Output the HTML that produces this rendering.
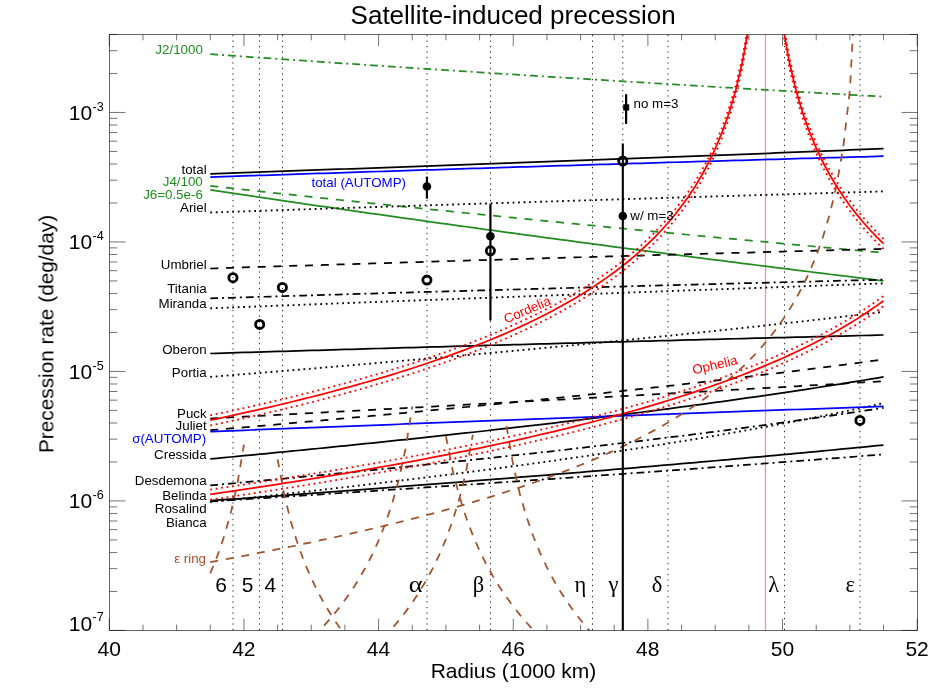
<!DOCTYPE html><html><head><meta charset="utf-8"><title>Satellite-induced precession</title>
<style>html,body{margin:0;padding:0;background:#fff;}svg{display:block;font-family:"Liberation Sans",sans-serif;}</style></head><body>
<svg width="950" height="700" viewBox="0 0 950 700">
<rect x="0" y="0" width="950" height="700" fill="#ffffff"/>
<defs><clipPath id="cp"><rect x="109.5" y="34.5" width="808.0" height="595.9"/></clipPath></defs>
<g stroke="#262626" stroke-width="1" stroke-dasharray="1.3 4.2" stroke-dashoffset="-0.2" fill="none">
<line x1="233.0" y1="630.4" x2="233.0" y2="34.5"/>
<line x1="259.5" y1="630.4" x2="259.5" y2="34.5"/>
<line x1="282.5" y1="630.4" x2="282.5" y2="34.5"/>
<line x1="427.0" y1="630.4" x2="427.0" y2="34.5"/>
<line x1="490.5" y1="630.4" x2="490.5" y2="34.5"/>
<line x1="592.5" y1="630.4" x2="592.5" y2="34.5"/>
<line x1="622.8" y1="630.4" x2="622.8" y2="34.5"/>
<line x1="668.0" y1="630.4" x2="668.0" y2="34.5"/>
<line x1="784.5" y1="630.4" x2="784.5" y2="34.5"/>
<line x1="860.0" y1="630.4" x2="860.0" y2="34.5"/>
</g>
<line x1="765.5" y1="34.5" x2="765.5" y2="630.4" stroke="#ff8a8a" stroke-width="1.2"/>
<g clip-path="url(#cp)">
<polyline points="210.27,54.20 217.00,54.67 223.74,55.15 230.47,55.62 237.20,56.09 243.94,56.56 250.67,57.03 257.40,57.49 264.13,57.96 270.87,58.42 277.60,58.89 284.33,59.35 291.07,59.81 297.80,60.27 304.53,60.73 311.26,61.19 318.00,61.65 324.73,62.10 331.46,62.56 338.20,63.01 344.93,63.46 351.66,63.92 358.39,64.37 365.13,64.82 371.86,65.27 378.59,65.71 385.32,66.16 392.06,66.61 398.79,67.05 405.52,67.50 412.26,67.94 418.99,68.38 425.72,68.82 432.45,69.26 439.19,69.70 445.92,70.14 452.65,70.57 459.39,71.01 466.12,71.44 472.85,71.88 479.58,72.31 486.32,72.74 493.05,73.18 499.78,73.61 506.52,74.03 513.25,74.46 519.98,74.89 526.71,75.32 533.45,75.74 540.18,76.17 546.91,76.59 553.64,77.01 560.38,77.44 567.11,77.86 573.84,78.28 580.58,78.70 587.31,79.11 594.04,79.53 600.77,79.95 607.51,80.36 614.24,80.78 620.97,81.19 627.71,81.61 634.44,82.02 641.17,82.43 647.90,82.84 654.64,83.25 661.37,83.66 668.10,84.07 674.84,84.47 681.57,84.88 688.30,85.29 695.03,85.69 701.77,86.09 708.50,86.50 715.23,86.90 721.96,87.30 728.70,87.70 735.43,88.10 742.16,88.50 748.90,88.90 755.63,89.29 762.36,89.69 769.09,90.09 775.83,90.48 782.56,90.88 789.29,91.27 796.03,91.66 802.76,92.05 809.49,92.44 816.22,92.83 822.96,93.22 829.69,93.61 836.42,94.00 843.16,94.39 849.89,94.77 856.62,95.16 863.35,95.54 870.09,95.93 876.82,96.31 883.55,96.69" fill="none" stroke="#228b22" stroke-width="1.75" stroke-dasharray="7.8 4 2 4" />
<polyline points="210.27,185.90 217.00,186.64 223.74,187.39 230.47,188.13 237.20,188.87 243.94,189.60 250.67,190.34 257.40,191.07 264.13,191.81 270.87,192.54 277.60,193.26 284.33,193.99 291.07,194.72 297.80,195.44 304.53,196.16 311.26,196.88 318.00,197.60 324.73,198.32 331.46,199.03 338.20,199.75 344.93,200.46 351.66,201.17 358.39,201.88 365.13,202.58 371.86,203.29 378.59,203.99 385.32,204.70 392.06,205.40 398.79,206.09 405.52,206.79 412.26,207.49 418.99,208.18 425.72,208.88 432.45,209.57 439.19,210.26 445.92,210.94 452.65,211.63 459.39,212.32 466.12,213.00 472.85,213.68 479.58,214.36 486.32,215.04 493.05,215.72 499.78,216.39 506.52,217.07 513.25,217.74 519.98,218.41 526.71,219.08 533.45,219.75 540.18,220.42 546.91,221.09 553.64,221.75 560.38,222.41 567.11,223.07 573.84,223.74 580.58,224.39 587.31,225.05 594.04,225.71 600.77,226.36 607.51,227.02 614.24,227.67 620.97,228.32 627.71,228.97 634.44,229.61 641.17,230.26 647.90,230.91 654.64,231.55 661.37,232.19 668.10,232.83 674.84,233.47 681.57,234.11 688.30,234.75 695.03,235.38 701.77,236.02 708.50,236.65 715.23,237.28 721.96,237.91 728.70,238.54 735.43,239.17 742.16,239.80 748.90,240.42 755.63,241.05 762.36,241.67 769.09,242.29 775.83,242.91 782.56,243.53 789.29,244.15 796.03,244.77 802.76,245.38 809.49,246.00 816.22,246.61 822.96,247.22 829.69,247.83 836.42,248.44 843.16,249.05 849.89,249.66 856.62,250.26 863.35,250.87 870.09,251.47 876.82,252.07 883.55,252.67" fill="none" stroke="#228b22" stroke-width="1.75" stroke-dasharray="8 7.8" />
<polyline points="210.27,189.80 217.00,190.82 223.74,191.83 230.47,192.84 237.20,193.85 243.94,194.85 250.67,195.85 257.40,196.85 264.13,197.85 270.87,198.85 277.60,199.84 284.33,200.83 291.07,201.82 297.80,202.81 304.53,203.79 311.26,204.78 318.00,205.76 324.73,206.73 331.46,207.71 338.20,208.68 344.93,209.65 351.66,210.62 358.39,211.59 365.13,212.55 371.86,213.51 378.59,214.47 385.32,215.43 392.06,216.39 398.79,217.34 405.52,218.29 412.26,219.24 418.99,220.18 425.72,221.13 432.45,222.07 439.19,223.01 445.92,223.95 452.65,224.89 459.39,225.82 466.12,226.75 472.85,227.68 479.58,228.61 486.32,229.54 493.05,230.46 499.78,231.38 506.52,232.30 513.25,233.22 519.98,234.14 526.71,235.05 533.45,235.96 540.18,236.87 546.91,237.78 553.64,238.69 560.38,239.59 567.11,240.49 573.84,241.39 580.58,242.29 587.31,243.19 594.04,244.08 600.77,244.98 607.51,245.87 614.24,246.76 620.97,247.64 627.71,248.53 634.44,249.41 641.17,250.29 647.90,251.17 654.64,252.05 661.37,252.93 668.10,253.80 674.84,254.67 681.57,255.54 688.30,256.41 695.03,257.28 701.77,258.14 708.50,259.01 715.23,259.87 721.96,260.73 728.70,261.59 735.43,262.44 742.16,263.30 748.90,264.15 755.63,265.00 762.36,265.85 769.09,266.70 775.83,267.54 782.56,268.39 789.29,269.23 796.03,270.07 802.76,270.91 809.49,271.75 816.22,272.59 822.96,273.42 829.69,274.25 836.42,275.08 843.16,275.91 849.89,276.74 856.62,277.57 863.35,278.39 870.09,279.22 876.82,280.04 883.55,280.86" fill="none" stroke="#228b22" stroke-width="1.75"  />
<polyline points="210.27,502.00 217.00,501.29 223.74,500.58 230.47,499.86 237.20,499.14 243.94,498.42 250.67,497.70 257.40,496.97 264.13,496.24 270.87,495.50 277.60,494.76 284.33,494.02 291.07,493.27 297.80,492.52 304.53,491.77 311.26,491.01 318.00,490.25 324.73,489.48 331.46,488.71 338.20,487.94 344.93,487.16 351.66,486.38 358.39,485.59 365.13,484.80 371.86,484.01 378.59,483.21 385.32,482.40 392.06,481.59 398.79,480.78 405.52,479.96 412.26,479.14 418.99,478.31 425.72,477.48 432.45,476.65 439.19,475.80 445.92,474.96 452.65,474.10 459.39,473.25 466.12,472.38 472.85,471.51 479.58,470.64 486.32,469.76 493.05,468.88 499.78,467.98 506.52,467.09 513.25,466.18 519.98,465.27 526.71,464.36 533.45,463.44 540.18,462.51 546.91,461.57 553.64,460.63 560.38,459.69 567.11,458.73 573.84,457.77 580.58,456.80 587.31,455.82 594.04,454.84 600.77,453.85 607.51,452.85 614.24,451.84 620.97,450.83 627.71,449.81 634.44,448.78 641.17,447.74 647.90,446.69 654.64,445.64 661.37,444.57 668.10,443.50 674.84,442.41 681.57,441.32 688.30,440.22 695.03,439.11 701.77,437.99 708.50,436.86 715.23,435.72 721.96,434.56 728.70,433.40 735.43,432.23 742.16,431.04 748.90,429.84 755.63,428.64 762.36,427.42 769.09,426.18 775.83,424.94 782.56,423.68 789.29,422.41 796.03,421.13 802.76,419.83 809.49,418.52 816.22,417.19 822.96,415.85 829.69,414.50 836.42,413.13 843.16,411.74 849.89,410.34 856.62,408.92 863.35,407.48 870.09,406.03 876.82,404.56 883.55,403.07" fill="none" stroke="#000" stroke-width="1.85" stroke-dasharray="1.8 3.7" />
<polyline points="210.27,458.90 217.00,458.27 223.74,457.63 230.47,457.00 237.20,456.36 243.94,455.72 250.67,455.08 257.40,454.43 264.13,453.78 270.87,453.13 277.60,452.48 284.33,451.82 291.07,451.16 297.80,450.50 304.53,449.84 311.26,449.17 318.00,448.50 324.73,447.83 331.46,447.15 338.20,446.48 344.93,445.80 351.66,445.11 358.39,444.42 365.13,443.73 371.86,443.04 378.59,442.35 385.32,441.65 392.06,440.94 398.79,440.24 405.52,439.53 412.26,438.82 418.99,438.10 425.72,437.38 432.45,436.66 439.19,435.93 445.92,435.20 452.65,434.47 459.39,433.73 466.12,432.99 472.85,432.25 479.58,431.50 486.32,430.75 493.05,429.99 499.78,429.23 506.52,428.47 513.25,427.70 519.98,426.93 526.71,426.15 533.45,425.37 540.18,424.59 546.91,423.80 553.64,423.01 560.38,422.21 567.11,421.41 573.84,420.60 580.58,419.79 587.31,418.97 594.04,418.15 600.77,417.32 607.51,416.49 614.24,415.65 620.97,414.81 627.71,413.96 634.44,413.11 641.17,412.25 647.90,411.39 654.64,410.52 661.37,409.65 668.10,408.77 674.84,407.88 681.57,406.99 688.30,406.09 695.03,405.19 701.77,404.28 708.50,403.36 715.23,402.44 721.96,401.51 728.70,400.57 735.43,399.63 742.16,398.68 748.90,397.72 755.63,396.76 762.36,395.79 769.09,394.81 775.83,393.82 782.56,392.83 789.29,391.83 796.03,390.82 802.76,389.80 809.49,388.77 816.22,387.74 822.96,386.70 829.69,385.65 836.42,384.59 843.16,383.52 849.89,382.44 856.62,381.35 863.35,380.26 870.09,379.15 876.82,378.03 883.55,376.91" fill="none" stroke="#000" stroke-width="1.75"  />
<polyline points="210.27,485.40 217.00,484.79 223.74,484.18 230.47,483.57 237.20,482.95 243.94,482.33 250.67,481.71 257.40,481.09 264.13,480.47 270.87,479.84 277.60,479.21 284.33,478.58 291.07,477.94 297.80,477.31 304.53,476.67 311.26,476.03 318.00,475.38 324.73,474.74 331.46,474.09 338.20,473.44 344.93,472.78 351.66,472.13 358.39,471.47 365.13,470.81 371.86,470.14 378.59,469.48 385.32,468.81 392.06,468.13 398.79,467.46 405.52,466.78 412.26,466.10 418.99,465.41 425.72,464.72 432.45,464.03 439.19,463.34 445.92,462.64 452.65,461.94 459.39,461.24 466.12,460.53 472.85,459.82 479.58,459.11 486.32,458.39 493.05,457.67 499.78,456.94 506.52,456.22 513.25,455.48 519.98,454.75 526.71,454.01 533.45,453.27 540.18,452.52 546.91,451.77 553.64,451.02 560.38,450.26 567.11,449.50 573.84,448.73 580.58,447.96 587.31,447.19 594.04,446.41 600.77,445.62 607.51,444.84 614.24,444.05 620.97,443.25 627.71,442.45 634.44,441.64 641.17,440.83 647.90,440.02 654.64,439.20 661.37,438.37 668.10,437.54 674.84,436.71 681.57,435.87 688.30,435.02 695.03,434.17 701.77,433.31 708.50,432.45 715.23,431.58 721.96,430.71 728.70,429.83 735.43,428.95 742.16,428.06 748.90,427.16 755.63,426.26 762.36,425.35 769.09,424.43 775.83,423.51 782.56,422.58 789.29,421.65 796.03,420.71 802.76,419.76 809.49,418.80 816.22,417.84 822.96,416.87 829.69,415.89 836.42,414.91 843.16,413.91 849.89,412.91 856.62,411.91 863.35,410.89 870.09,409.86 876.82,408.83 883.55,407.79" fill="none" stroke="#000" stroke-width="1.75" stroke-dasharray="7.8 4 2 4" />
<polyline points="210.27,430.20 217.00,429.63 223.74,429.05 230.47,428.48 237.20,427.90 243.94,427.32 250.67,426.73 257.40,426.15 264.13,425.56 270.87,424.98 277.60,424.39 284.33,423.80 291.07,423.20 297.80,422.61 304.53,422.01 311.26,421.41 318.00,420.81 324.73,420.21 331.46,419.60 338.20,418.99 344.93,418.38 351.66,417.77 358.39,417.16 365.13,416.54 371.86,415.92 378.59,415.30 385.32,414.68 392.06,414.05 398.79,413.42 405.52,412.79 412.26,412.16 418.99,411.52 425.72,410.88 432.45,410.24 439.19,409.60 445.92,408.96 452.65,408.31 459.39,407.66 466.12,407.00 472.85,406.35 479.58,405.69 486.32,405.03 493.05,404.36 499.78,403.69 506.52,403.02 513.25,402.35 519.98,401.67 526.71,401.00 533.45,400.31 540.18,399.63 546.91,398.94 553.64,398.25 560.38,397.55 567.11,396.85 573.84,396.15 580.58,395.45 587.31,394.74 594.04,394.03 600.77,393.31 607.51,392.60 614.24,391.87 620.97,391.15 627.71,390.42 634.44,389.69 641.17,388.95 647.90,388.21 654.64,387.46 661.37,386.72 668.10,385.96 674.84,385.21 681.57,384.45 688.30,383.68 695.03,382.91 701.77,382.14 708.50,381.36 715.23,380.58 721.96,379.80 728.70,379.00 735.43,378.21 742.16,377.41 748.90,376.61 755.63,375.80 762.36,374.98 769.09,374.16 775.83,373.34 782.56,372.51 789.29,371.68 796.03,370.84 802.76,369.99 809.49,369.14 816.22,368.29 822.96,367.43 829.69,366.56 836.42,365.69 843.16,364.81 849.89,363.92 856.62,363.03 863.35,362.14 870.09,361.24 876.82,360.33 883.55,359.41" fill="none" stroke="#000" stroke-width="1.75" stroke-dasharray="8 7.8" />
<polyline points="210.27,376.90 217.00,376.36 223.74,375.82 230.47,375.27 237.20,374.73 243.94,374.18 250.67,373.63 257.40,373.08 264.13,372.53 270.87,371.98 277.60,371.42 284.33,370.87 291.07,370.31 297.80,369.75 304.53,369.19 311.26,368.63 318.00,368.06 324.73,367.50 331.46,366.93 338.20,366.36 344.93,365.79 351.66,365.21 358.39,364.64 365.13,364.06 371.86,363.48 378.59,362.90 385.32,362.32 392.06,361.74 398.79,361.15 405.52,360.56 412.26,359.97 418.99,359.38 425.72,358.78 432.45,358.19 439.19,357.59 445.92,356.99 452.65,356.39 459.39,355.78 466.12,355.17 472.85,354.56 479.58,353.95 486.32,353.34 493.05,352.72 499.78,352.10 506.52,351.48 513.25,350.86 519.98,350.23 526.71,349.61 533.45,348.97 540.18,348.34 546.91,347.71 553.64,347.07 560.38,346.43 567.11,345.78 573.84,345.14 580.58,344.49 587.31,343.84 594.04,343.18 600.77,342.53 607.51,341.87 614.24,341.20 620.97,340.54 627.71,339.87 634.44,339.20 641.17,338.52 647.90,337.84 654.64,337.16 661.37,336.48 668.10,335.79 674.84,335.10 681.57,334.41 688.30,333.71 695.03,333.01 701.77,332.31 708.50,331.60 715.23,330.89 721.96,330.18 728.70,329.46 735.43,328.74 742.16,328.01 748.90,327.28 755.63,326.55 762.36,325.82 769.09,325.08 775.83,324.33 782.56,323.58 789.29,322.83 796.03,322.08 802.76,321.32 809.49,320.55 816.22,319.78 822.96,319.01 829.69,318.23 836.42,317.45 843.16,316.66 849.89,315.87 856.62,315.08 863.35,314.28 870.09,313.47 876.82,312.66 883.55,311.85" fill="none" stroke="#000" stroke-width="1.85" stroke-dasharray="1.8 3.7" />
<polyline points="210.27,500.70 217.00,500.22 223.74,499.73 230.47,499.24 237.20,498.76 243.94,498.27 250.67,497.78 257.40,497.29 264.13,496.80 270.87,496.30 277.60,495.81 284.33,495.32 291.07,494.82 297.80,494.32 304.53,493.83 311.26,493.33 318.00,492.83 324.73,492.33 331.46,491.82 338.20,491.32 344.93,490.81 351.66,490.31 358.39,489.80 365.13,489.29 371.86,488.78 378.59,488.27 385.32,487.76 392.06,487.25 398.79,486.73 405.52,486.22 412.26,485.70 418.99,485.18 425.72,484.66 432.45,484.14 439.19,483.61 445.92,483.09 452.65,482.56 459.39,482.04 466.12,481.51 472.85,480.98 479.58,480.45 486.32,479.91 493.05,479.38 499.78,478.84 506.52,478.30 513.25,477.76 519.98,477.22 526.71,476.68 533.45,476.14 540.18,475.59 546.91,475.04 553.64,474.49 560.38,473.94 567.11,473.39 573.84,472.84 580.58,472.28 587.31,471.72 594.04,471.16 600.77,470.60 607.51,470.04 614.24,469.47 620.97,468.90 627.71,468.33 634.44,467.76 641.17,467.19 647.90,466.62 654.64,466.04 661.37,465.46 668.10,464.88 674.84,464.30 681.57,463.71 688.30,463.12 695.03,462.53 701.77,461.94 708.50,461.35 715.23,460.75 721.96,460.15 728.70,459.55 735.43,458.95 742.16,458.34 748.90,457.74 755.63,457.13 762.36,456.51 769.09,455.90 775.83,455.28 782.56,454.66 789.29,454.04 796.03,453.42 802.76,452.79 809.49,452.16 816.22,451.53 822.96,450.89 829.69,450.25 836.42,449.61 843.16,448.97 849.89,448.32 856.62,447.67 863.35,447.02 870.09,446.37 876.82,445.71 883.55,445.05" fill="none" stroke="#000" stroke-width="1.75"  />
<polyline points="210.27,501.50 217.00,501.07 223.74,500.64 230.47,500.21 237.20,499.78 243.94,499.35 250.67,498.92 257.40,498.49 264.13,498.05 270.87,497.62 277.60,497.19 284.33,496.75 291.07,496.32 297.80,495.88 304.53,495.45 311.26,495.01 318.00,494.57 324.73,494.13 331.46,493.69 338.20,493.25 344.93,492.81 351.66,492.37 358.39,491.93 365.13,491.49 371.86,491.04 378.59,490.60 385.32,490.15 392.06,489.71 398.79,489.26 405.52,488.81 412.26,488.37 418.99,487.92 425.72,487.47 432.45,487.02 439.19,486.57 445.92,486.11 452.65,485.66 459.39,485.21 466.12,484.75 472.85,484.30 479.58,483.84 486.32,483.38 493.05,482.92 499.78,482.46 506.52,482.00 513.25,481.54 519.98,481.08 526.71,480.62 533.45,480.15 540.18,479.69 546.91,479.22 553.64,478.76 560.38,478.29 567.11,477.82 573.84,477.35 580.58,476.88 587.31,476.40 594.04,475.93 600.77,475.46 607.51,474.98 614.24,474.50 620.97,474.03 627.71,473.55 634.44,473.07 641.17,472.59 647.90,472.10 654.64,471.62 661.37,471.14 668.10,470.65 674.84,470.16 681.57,469.68 688.30,469.19 695.03,468.70 701.77,468.20 708.50,467.71 715.23,467.21 721.96,466.72 728.70,466.22 735.43,465.72 742.16,465.22 748.90,464.72 755.63,464.22 762.36,463.71 769.09,463.21 775.83,462.70 782.56,462.19 789.29,461.68 796.03,461.17 802.76,460.66 809.49,460.15 816.22,459.63 822.96,459.11 829.69,458.59 836.42,458.07 843.16,457.55 849.89,457.03 856.62,456.50 863.35,455.98 870.09,455.45 876.82,454.92 883.55,454.38" fill="none" stroke="#000" stroke-width="1.75" stroke-dasharray="7.8 4 2 4" />
<polyline points="210.27,418.50 217.00,418.14 223.74,417.78 230.47,417.42 237.20,417.06 243.94,416.70 250.67,416.34 257.40,415.98 264.13,415.62 270.87,415.26 277.60,414.90 284.33,414.54 291.07,414.18 297.80,413.82 304.53,413.46 311.26,413.10 318.00,412.74 324.73,412.37 331.46,412.01 338.20,411.65 344.93,411.29 351.66,410.92 358.39,410.56 365.13,410.20 371.86,409.84 378.59,409.47 385.32,409.11 392.06,408.74 398.79,408.38 405.52,408.02 412.26,407.65 418.99,407.29 425.72,406.92 432.45,406.56 439.19,406.19 445.92,405.82 452.65,405.46 459.39,405.09 466.12,404.72 472.85,404.36 479.58,403.99 486.32,403.62 493.05,403.25 499.78,402.88 506.52,402.51 513.25,402.14 519.98,401.78 526.71,401.41 533.45,401.03 540.18,400.66 546.91,400.29 553.64,399.92 560.38,399.55 567.11,399.18 573.84,398.81 580.58,398.43 587.31,398.06 594.04,397.69 600.77,397.31 607.51,396.94 614.24,396.56 620.97,396.19 627.71,395.81 634.44,395.43 641.17,395.06 647.90,394.68 654.64,394.30 661.37,393.92 668.10,393.55 674.84,393.17 681.57,392.79 688.30,392.41 695.03,392.03 701.77,391.65 708.50,391.27 715.23,390.88 721.96,390.50 728.70,390.12 735.43,389.74 742.16,389.35 748.90,388.97 755.63,388.58 762.36,388.20 769.09,387.81 775.83,387.42 782.56,387.04 789.29,386.65 796.03,386.26 802.76,385.87 809.49,385.48 816.22,385.09 822.96,384.70 829.69,384.31 836.42,383.92 843.16,383.53 849.89,383.13 856.62,382.74 863.35,382.35 870.09,381.95 876.82,381.56 883.55,381.16" fill="none" stroke="#000" stroke-width="1.75" stroke-dasharray="8 7.8" />
<polyline points="210.27,308.30 217.00,308.04 223.74,307.78 230.47,307.52 237.20,307.26 243.94,307.00 250.67,306.74 257.40,306.48 264.13,306.22 270.87,305.96 277.60,305.70 284.33,305.44 291.07,305.19 297.80,304.93 304.53,304.67 311.26,304.41 318.00,304.16 324.73,303.90 331.46,303.65 338.20,303.39 344.93,303.13 351.66,302.88 358.39,302.62 365.13,302.37 371.86,302.11 378.59,301.86 385.32,301.61 392.06,301.35 398.79,301.10 405.52,300.85 412.26,300.59 418.99,300.34 425.72,300.09 432.45,299.84 439.19,299.58 445.92,299.33 452.65,299.08 459.39,298.83 466.12,298.58 472.85,298.33 479.58,298.08 486.32,297.83 493.05,297.58 499.78,297.33 506.52,297.08 513.25,296.83 519.98,296.58 526.71,296.33 533.45,296.08 540.18,295.83 546.91,295.58 553.64,295.33 560.38,295.08 567.11,294.84 573.84,294.59 580.58,294.34 587.31,294.09 594.04,293.85 600.77,293.60 607.51,293.35 614.24,293.11 620.97,292.86 627.71,292.61 634.44,292.37 641.17,292.12 647.90,291.88 654.64,291.63 661.37,291.39 668.10,291.14 674.84,290.89 681.57,290.65 688.30,290.41 695.03,290.16 701.77,289.92 708.50,289.67 715.23,289.43 721.96,289.18 728.70,288.94 735.43,288.70 742.16,288.45 748.90,288.21 755.63,287.97 762.36,287.72 769.09,287.48 775.83,287.24 782.56,287.00 789.29,286.75 796.03,286.51 802.76,286.27 809.49,286.03 816.22,285.78 822.96,285.54 829.69,285.30 836.42,285.06 843.16,284.82 849.89,284.58 856.62,284.34 863.35,284.09 870.09,283.85 876.82,283.61 883.55,283.37" fill="none" stroke="#000" stroke-width="1.85" stroke-dasharray="1.8 3.7" />
<polyline points="210.27,212.50 217.00,212.27 223.74,212.04 230.47,211.82 237.20,211.59 243.94,211.36 250.67,211.14 257.40,210.91 264.13,210.69 270.87,210.46 277.60,210.24 284.33,210.01 291.07,209.79 297.80,209.56 304.53,209.34 311.26,209.12 318.00,208.90 324.73,208.67 331.46,208.45 338.20,208.23 344.93,208.01 351.66,207.79 358.39,207.57 365.13,207.35 371.86,207.13 378.59,206.91 385.32,206.69 392.06,206.48 398.79,206.26 405.52,206.04 412.26,205.82 418.99,205.61 425.72,205.39 432.45,205.18 439.19,204.96 445.92,204.74 452.65,204.53 459.39,204.31 466.12,204.10 472.85,203.89 479.58,203.67 486.32,203.46 493.05,203.25 499.78,203.03 506.52,202.82 513.25,202.61 519.98,202.40 526.71,202.19 533.45,201.98 540.18,201.77 546.91,201.56 553.64,201.35 560.38,201.14 567.11,200.93 573.84,200.72 580.58,200.51 587.31,200.30 594.04,200.09 600.77,199.89 607.51,199.68 614.24,199.47 620.97,199.26 627.71,199.06 634.44,198.85 641.17,198.65 647.90,198.44 654.64,198.23 661.37,198.03 668.10,197.82 674.84,197.62 681.57,197.42 688.30,197.21 695.03,197.01 701.77,196.81 708.50,196.60 715.23,196.40 721.96,196.20 728.70,195.99 735.43,195.79 742.16,195.59 748.90,195.39 755.63,195.19 762.36,194.99 769.09,194.79 775.83,194.59 782.56,194.39 789.29,194.19 796.03,193.99 802.76,193.79 809.49,193.59 816.22,193.39 822.96,193.19 829.69,192.99 836.42,192.80 843.16,192.60 849.89,192.40 856.62,192.20 863.35,192.01 870.09,191.81 876.82,191.61 883.55,191.42" fill="none" stroke="#000" stroke-width="1.85" stroke-dasharray="1.8 3.7" />
<polyline points="210.27,268.50 217.00,268.28 223.74,268.07 230.47,267.85 237.20,267.64 243.94,267.43 250.67,267.21 257.40,267.00 264.13,266.79 270.87,266.57 277.60,266.36 284.33,266.15 291.07,265.94 297.80,265.73 304.53,265.52 311.26,265.31 318.00,265.10 324.73,264.89 331.46,264.68 338.20,264.48 344.93,264.27 351.66,264.06 358.39,263.86 365.13,263.65 371.86,263.44 378.59,263.24 385.32,263.03 392.06,262.83 398.79,262.62 405.52,262.42 412.26,262.22 418.99,262.01 425.72,261.81 432.45,261.61 439.19,261.41 445.92,261.21 452.65,261.00 459.39,260.80 466.12,260.60 472.85,260.40 479.58,260.20 486.32,260.01 493.05,259.81 499.78,259.61 506.52,259.41 513.25,259.21 519.98,259.01 526.71,258.82 533.45,258.62 540.18,258.42 546.91,258.23 553.64,258.03 560.38,257.84 567.11,257.64 573.84,257.45 580.58,257.25 587.31,257.06 594.04,256.87 600.77,256.67 607.51,256.48 614.24,256.29 620.97,256.10 627.71,255.91 634.44,255.71 641.17,255.52 647.90,255.33 654.64,255.14 661.37,254.95 668.10,254.76 674.84,254.57 681.57,254.38 688.30,254.19 695.03,254.01 701.77,253.82 708.50,253.63 715.23,253.44 721.96,253.26 728.70,253.07 735.43,252.88 742.16,252.70 748.90,252.51 755.63,252.33 762.36,252.14 769.09,251.95 775.83,251.77 782.56,251.59 789.29,251.40 796.03,251.22 802.76,251.03 809.49,250.85 816.22,250.67 822.96,250.49 829.69,250.30 836.42,250.12 843.16,249.94 849.89,249.76 856.62,249.58 863.35,249.40 870.09,249.22 876.82,249.04 883.55,248.86" fill="none" stroke="#000" stroke-width="1.75" stroke-dasharray="8 7.8" />
<polyline points="210.27,298.40 217.00,298.19 223.74,297.99 230.47,297.78 237.20,297.57 243.94,297.37 250.67,297.16 257.40,296.96 264.13,296.75 270.87,296.55 277.60,296.34 284.33,296.14 291.07,295.94 297.80,295.74 304.53,295.54 311.26,295.33 318.00,295.13 324.73,294.93 331.46,294.73 338.20,294.53 344.93,294.33 351.66,294.14 358.39,293.94 365.13,293.74 371.86,293.54 378.59,293.35 385.32,293.15 392.06,292.95 398.79,292.76 405.52,292.56 412.26,292.37 418.99,292.17 425.72,291.98 432.45,291.79 439.19,291.59 445.92,291.40 452.65,291.21 459.39,291.02 466.12,290.82 472.85,290.63 479.58,290.44 486.32,290.25 493.05,290.06 499.78,289.87 506.52,289.68 513.25,289.50 519.98,289.31 526.71,289.12 533.45,288.93 540.18,288.74 546.91,288.56 553.64,288.37 560.38,288.19 567.11,288.00 573.84,287.81 580.58,287.63 587.31,287.44 594.04,287.26 600.77,287.08 607.51,286.89 614.24,286.71 620.97,286.53 627.71,286.34 634.44,286.16 641.17,285.98 647.90,285.80 654.64,285.62 661.37,285.44 668.10,285.26 674.84,285.08 681.57,284.90 688.30,284.72 695.03,284.54 701.77,284.36 708.50,284.18 715.23,284.01 721.96,283.83 728.70,283.65 735.43,283.47 742.16,283.30 748.90,283.12 755.63,282.95 762.36,282.77 769.09,282.60 775.83,282.42 782.56,282.25 789.29,282.07 796.03,281.90 802.76,281.72 809.49,281.55 816.22,281.38 822.96,281.21 829.69,281.03 836.42,280.86 843.16,280.69 849.89,280.52 856.62,280.35 863.35,280.18 870.09,280.01 876.82,279.84 883.55,279.67" fill="none" stroke="#000" stroke-width="1.75" stroke-dasharray="7.8 4 2 4" />
<polyline points="210.27,353.50 217.00,353.29 223.74,353.09 230.47,352.88 237.20,352.68 243.94,352.48 250.67,352.27 257.40,352.07 264.13,351.87 270.87,351.67 277.60,351.47 284.33,351.26 291.07,351.06 297.80,350.86 304.53,350.66 311.26,350.47 318.00,350.27 324.73,350.07 331.46,349.87 338.20,349.67 344.93,349.48 351.66,349.28 358.39,349.08 365.13,348.89 371.86,348.69 378.59,348.50 385.32,348.30 392.06,348.11 398.79,347.92 405.52,347.72 412.26,347.53 418.99,347.34 425.72,347.15 432.45,346.96 439.19,346.77 445.92,346.58 452.65,346.39 459.39,346.20 466.12,346.01 472.85,345.82 479.58,345.63 486.32,345.44 493.05,345.25 499.78,345.07 506.52,344.88 513.25,344.69 519.98,344.51 526.71,344.32 533.45,344.14 540.18,343.95 546.91,343.77 553.64,343.58 560.38,343.40 567.11,343.22 573.84,343.03 580.58,342.85 587.31,342.67 594.04,342.49 600.77,342.30 607.51,342.12 614.24,341.94 620.97,341.76 627.71,341.58 634.44,341.40 641.17,341.22 647.90,341.04 654.64,340.87 661.37,340.69 668.10,340.51 674.84,340.33 681.57,340.16 688.30,339.98 695.03,339.80 701.77,339.63 708.50,339.45 715.23,339.27 721.96,339.10 728.70,338.93 735.43,338.75 742.16,338.58 748.90,338.40 755.63,338.23 762.36,338.06 769.09,337.88 775.83,337.71 782.56,337.54 789.29,337.37 796.03,337.20 802.76,337.03 809.49,336.86 816.22,336.68 822.96,336.51 829.69,336.34 836.42,336.18 843.16,336.01 849.89,335.84 856.62,335.67 863.35,335.50 870.09,335.33 876.82,335.17 883.55,335.00" fill="none" stroke="#000" stroke-width="1.75"  />
<polyline points="210.27,173.90 217.00,173.65 223.74,173.41 230.47,173.16 237.20,172.92 243.94,172.67 250.67,172.42 257.40,172.18 264.13,171.93 270.87,171.69 277.60,171.44 284.33,171.20 291.07,170.95 297.80,170.71 304.53,170.46 311.26,170.22 318.00,169.98 324.73,169.73 331.46,169.49 338.20,169.24 344.93,169.00 351.66,168.76 358.39,168.51 365.13,168.27 371.86,168.02 378.59,167.78 385.32,167.54 392.06,167.29 398.79,167.05 405.52,166.80 412.26,166.56 418.99,166.32 425.72,166.07 432.45,165.83 439.19,165.58 445.92,165.34 452.65,165.09 459.39,164.85 466.12,164.61 472.85,164.36 479.58,164.12 486.32,163.87 493.05,163.63 499.78,163.38 506.52,163.14 513.25,162.89 519.98,162.64 526.71,162.40 533.45,162.15 540.18,161.91 546.91,161.66 553.64,161.41 560.38,161.16 567.11,160.92 573.84,160.67 580.58,160.42 587.31,160.17 594.04,159.92 600.77,159.67 607.51,159.42 614.24,159.17 620.97,158.92 627.71,158.67 634.44,158.42 641.17,158.17 647.90,157.92 654.64,157.66 661.37,157.41 668.10,157.16 674.84,156.90 681.57,156.65 688.30,156.39 695.03,156.13 701.77,155.88 708.50,155.62 715.23,155.36 721.96,155.10 728.70,154.84 735.43,154.58 742.16,154.32 748.90,154.05 755.63,153.79 762.36,153.53 769.09,153.26 775.83,152.99 782.56,152.73 789.29,152.46 796.03,152.19 802.76,151.92 809.49,151.64 816.22,151.37 822.96,151.09 829.69,150.82 836.42,150.54 843.16,150.26 849.89,149.98 856.62,149.70 863.35,149.41 870.09,149.13 876.82,148.84 883.55,148.55" fill="none" stroke="#000" stroke-width="1.75"  />
<polyline points="210.27,177.08 217.00,176.85 223.74,176.63 230.47,176.40 237.20,176.17 243.94,175.94 250.67,175.72 257.40,175.49 264.13,175.27 270.87,175.04 277.60,174.82 284.33,174.59 291.07,174.37 297.80,174.15 304.53,173.92 311.26,173.70 318.00,173.48 324.73,173.26 331.46,173.04 338.20,172.81 344.93,172.59 351.66,172.37 358.39,172.15 365.13,171.93 371.86,171.71 378.59,171.50 385.32,171.28 392.06,171.06 398.79,170.84 405.52,170.62 412.26,170.41 418.99,170.19 425.72,169.98 432.45,169.76 439.19,169.54 445.92,169.33 452.65,169.11 459.39,168.90 466.12,168.69 472.85,168.47 479.58,168.26 486.32,168.05 493.05,167.84 499.78,167.62 506.52,167.41 513.25,167.20 519.98,166.99 526.71,166.78 533.45,166.57 540.18,166.36 546.91,166.15 553.64,165.94 560.38,165.73 567.11,165.53 573.84,165.32 580.58,165.11 587.31,164.91 594.04,164.70 600.77,164.49 607.51,164.29 614.24,164.08 620.97,163.88 627.71,163.67 634.44,163.47 641.17,163.27 647.90,163.06 654.64,162.86 661.37,162.66 668.10,162.45 674.84,162.25 681.57,162.05 688.30,161.85 695.03,161.65 701.77,161.45 708.50,161.25 715.23,161.05 721.96,160.85 728.70,160.65 735.43,160.45 742.16,160.26 748.90,160.06 755.63,159.86 762.36,159.66 769.09,159.47 775.83,159.27 782.56,159.08 789.29,158.88 796.03,158.69 802.76,158.49 809.49,158.30 816.22,158.10 822.96,157.91 829.69,157.72 836.42,157.53 843.16,157.33 849.89,157.14 856.62,156.95 863.35,156.76 870.09,156.57 876.82,156.38 883.55,156.19" fill="none" stroke="#0000ff" stroke-width="1.75"  />
<polyline points="210.27,431.60 217.00,431.33 223.74,431.07 230.47,430.80 237.20,430.53 243.94,430.27 250.67,430.00 257.40,429.74 264.13,429.48 270.87,429.21 277.60,428.95 284.33,428.68 291.07,428.42 297.80,428.16 304.53,427.90 311.26,427.63 318.00,427.37 324.73,427.11 331.46,426.85 338.20,426.59 344.93,426.33 351.66,426.07 358.39,425.81 365.13,425.55 371.86,425.29 378.59,425.03 385.32,424.77 392.06,424.51 398.79,424.25 405.52,423.99 412.26,423.74 418.99,423.48 425.72,423.22 432.45,422.96 439.19,422.71 445.92,422.45 452.65,422.19 459.39,421.94 466.12,421.68 472.85,421.43 479.58,421.17 486.32,420.92 493.05,420.66 499.78,420.41 506.52,420.15 513.25,419.90 519.98,419.65 526.71,419.39 533.45,419.14 540.18,418.89 546.91,418.64 553.64,418.38 560.38,418.13 567.11,417.88 573.84,417.63 580.58,417.38 587.31,417.13 594.04,416.88 600.77,416.63 607.51,416.38 614.24,416.13 620.97,415.88 627.71,415.63 634.44,415.38 641.17,415.13 647.90,414.88 654.64,414.64 661.37,414.39 668.10,414.14 674.84,413.89 681.57,413.65 688.30,413.40 695.03,413.16 701.77,412.91 708.50,412.66 715.23,412.42 721.96,412.17 728.70,411.93 735.43,411.68 742.16,411.44 748.90,411.20 755.63,410.95 762.36,410.71 769.09,410.47 775.83,410.22 782.56,409.98 789.29,409.74 796.03,409.50 802.76,409.26 809.49,409.02 816.22,408.77 822.96,408.53 829.69,408.29 836.42,408.05 843.16,407.81 849.89,407.57 856.62,407.33 863.35,407.09 870.09,406.86 876.82,406.62 883.55,406.38" fill="none" stroke="#0000ff" stroke-width="1.75"  />
<polyline points="210.27,562.03 217.00,560.80 223.74,559.57 230.47,558.32 237.20,557.06 243.94,555.79 250.67,554.51 257.40,553.21 264.13,551.90 270.87,550.57 277.60,549.23 284.33,547.88 291.07,546.51 297.80,545.13 304.53,543.73 311.26,542.31 318.00,540.88 324.73,539.43 331.46,537.96 338.20,536.48 344.93,534.98 351.66,533.46 358.39,531.91 365.13,530.35 371.86,528.77 378.59,527.17 385.32,525.55 392.06,523.90 398.79,522.24 405.52,520.54 412.26,518.83 418.99,517.09 425.72,515.32 432.45,513.53 439.19,511.71 445.92,509.86 452.65,507.98 459.39,506.07 466.12,504.13 472.85,502.16 479.58,500.15 486.32,498.11 493.05,496.04 499.78,493.92 506.52,491.77 513.25,489.58 519.98,487.34 526.71,485.06 533.45,482.74 540.18,480.37 546.91,477.95 553.64,475.47 560.38,472.95 567.11,470.36 573.84,467.72 580.58,465.02 587.31,462.25 594.04,459.41 600.77,456.51 607.51,453.52 614.24,450.46 620.97,447.31 627.71,444.08 634.44,440.75 641.17,437.32 647.90,433.78 654.64,430.13 661.37,426.36 668.10,422.46 674.84,418.43 681.57,414.24 688.30,409.90 695.03,405.38 701.77,400.67 708.50,395.76 715.23,390.63 721.96,385.26 728.70,379.62 735.43,373.68 742.16,367.42 748.90,360.78 755.63,353.73 762.36,346.22 769.09,338.16 775.83,329.49 782.56,320.10 789.29,309.85 796.03,298.57 802.76,286.04 809.49,271.94 816.22,255.81 822.96,236.99 829.69,214.37 836.42,186.03 843.16,148.05 849.89,90.29 856.62,-34.79" fill="none" stroke="#a0522d" stroke-width="1.75" stroke-dasharray="8 7.8" />
<polyline points="210.27,573.37 217.00,556.89 223.74,537.57 230.47,514.25 237.20,484.78 243.94,444.76" fill="none" stroke="#a0522d" stroke-width="1.75" stroke-dasharray="8 7.8" />
<polyline points="277.60,459.30 284.33,495.20 291.07,522.37 297.80,544.24 304.53,562.55 311.26,578.29 318.00,592.10 324.73,604.40 331.46,615.49 338.20,625.59 344.93,634.86 351.66,643.42 358.39,651.38 365.13,658.81 371.86,665.79 378.59,672.36 385.32,678.57 392.06,684.46 398.79,690.06 405.52,695.39 412.26,700.49 418.99,705.36 425.72,710.04 432.45,714.53 439.19,718.85 445.92,723.01 452.65,727.03 459.39,730.91 466.12,734.66 472.85,738.29 479.58,741.81 486.32,745.23 493.05,748.54 499.78,751.77 506.52,754.90 513.25,757.95 519.98,760.93 526.71,763.83 533.45,766.65 540.18,769.41 546.91,772.11 553.64,774.74 560.38,777.32 567.11,779.83 573.84,782.30 580.58,784.71 587.31,787.08 594.04,789.40 600.77,791.67 607.51,793.90 614.24,796.08 620.97,798.23 627.71,800.34 634.44,802.41 641.17,804.44 647.90,806.44 654.64,808.41 661.37,810.34 668.10,812.24 674.84,814.12 681.57,815.96 688.30,817.77 695.03,819.56 701.77,821.32 708.50,823.05 715.23,824.76 721.96,826.45 728.70,828.11 735.43,829.75 742.16,831.37 748.90,832.96 755.63,834.53 762.36,836.09 769.09,837.62 775.83,839.13 782.56,840.63 789.29,842.10 796.03,843.56 802.76,845.00 809.49,846.43 816.22,847.83 822.96,849.22 829.69,850.60 836.42,851.96 843.16,853.30 849.89,854.63 856.62,855.95 863.35,857.25 870.09,858.53 876.82,859.81 883.55,861.07" fill="none" stroke="#a0522d" stroke-width="1.75" stroke-dasharray="8 7.8" />
<polyline points="210.27,709.74 217.00,706.16 223.74,702.47 230.47,698.66 237.20,694.71 243.94,690.63 250.67,686.39 257.40,681.99 264.13,677.41 270.87,672.64 277.60,667.66 284.33,662.45 291.07,656.99 297.80,651.26 304.53,645.22 311.26,638.84 318.00,632.08 324.73,624.89 331.46,617.21 338.20,608.98 344.93,600.09 351.66,590.44 358.39,579.89 365.13,568.25 371.86,555.27 378.59,540.60 385.32,523.72 392.06,503.86 398.79,479.73 405.52,448.98 412.26,406.51" fill="none" stroke="#a0522d" stroke-width="1.75" stroke-dasharray="8 7.8" />
<polyline points="445.92,436.06 452.65,470.20 459.39,496.36 466.12,517.57 472.85,535.41 479.58,550.80 486.32,564.35 493.05,576.43 499.78,587.35 506.52,597.30 513.25,606.45 519.98,614.91 526.71,622.78 533.45,630.14 540.18,637.04 546.91,643.55 553.64,649.71 560.38,655.55 567.11,661.10 573.84,666.39 580.58,671.45 587.31,676.29 594.04,680.93 600.77,685.39 607.51,689.68 614.24,693.82 620.97,697.81 627.71,701.67 634.44,705.40 641.17,709.01 647.90,712.51 654.64,715.91 661.37,719.21 668.10,722.41 674.84,725.53 681.57,728.57 688.30,731.53 695.03,734.41 701.77,737.23 708.50,739.97 715.23,742.66 721.96,745.28 728.70,747.84 735.43,750.35 742.16,752.80 748.90,755.21 755.63,757.56 762.36,759.87 769.09,762.13 775.83,764.35 782.56,766.53 789.29,768.67 796.03,770.76 802.76,772.83 809.49,774.85 816.22,776.84 822.96,778.80 829.69,780.73 836.42,782.62 843.16,784.49 849.89,786.32 856.62,788.13 863.35,789.91 870.09,791.66 876.82,793.39 883.55,795.09" fill="none" stroke="#a0522d" stroke-width="1.75" stroke-dasharray="8 7.8" />
<polyline points="210.27,746.77 217.00,744.00 223.74,741.17 230.47,738.26 237.20,735.28 243.94,732.23 250.67,729.08 257.40,725.85 264.13,722.53 270.87,719.11 277.60,715.58 284.33,711.94 291.07,708.18 297.80,704.29 304.53,700.27 311.26,696.10 318.00,691.77 324.73,687.27 331.46,682.59 338.20,677.70 344.93,672.59 351.66,667.25 358.39,661.64 365.13,655.73 371.86,649.51 378.59,642.92 385.32,635.92 392.06,628.46 398.79,620.47 405.52,611.88 412.26,602.57 418.99,592.43 425.72,581.29 432.45,568.92 439.19,555.03 445.92,539.17 452.65,520.72 459.39,498.63 466.12,471.12 472.85,434.64" fill="none" stroke="#a0522d" stroke-width="1.75" stroke-dasharray="8 7.8" />
<polyline points="506.52,426.08 513.25,465.40 519.98,494.48 526.71,517.56 533.45,536.71 540.18,553.07 546.91,567.35 553.64,580.03 560.38,591.42 567.11,601.76 573.84,611.24 580.58,619.98 587.31,628.09 594.04,635.66 600.77,642.75 607.51,649.43 614.24,655.73 620.97,661.70 627.71,667.37 634.44,672.77 641.17,677.93 647.90,682.86 654.64,687.58 661.37,692.12 668.10,696.48 674.84,700.68 681.57,704.73 688.30,708.65 695.03,712.43 701.77,716.09 708.50,719.64 715.23,723.08 721.96,726.42 728.70,729.66 735.43,732.82 742.16,735.89 748.90,738.88 755.63,741.80 762.36,744.64 769.09,747.41 775.83,750.12 782.56,752.77 789.29,755.36 796.03,757.89 802.76,760.36 809.49,762.79 816.22,765.16 822.96,767.49 829.69,769.77 836.42,772.01 843.16,774.20 849.89,776.35 856.62,778.47 863.35,780.55 870.09,782.59 876.82,784.59 883.55,786.56" fill="none" stroke="#a0522d" stroke-width="1.75" stroke-dasharray="8 7.8" />
<polyline points="210.27,415.35 217.00,413.93 223.74,412.50 230.47,411.05 237.20,409.58 243.94,408.09 250.67,406.59 257.40,405.07 264.13,403.52 270.87,401.96 277.60,400.38 284.33,398.78 291.07,397.15 297.80,395.50 304.53,393.84 311.26,392.14 318.00,390.43 324.73,388.68 331.46,386.92 338.20,385.12 344.93,383.30 351.66,381.45 358.39,379.57 365.13,377.66 371.86,375.72 378.59,373.75 385.32,371.74 392.06,369.70 398.79,367.62 405.52,365.51 412.26,363.36 418.99,361.16 425.72,358.93 432.45,356.65 439.19,354.32 445.92,351.95 452.65,349.53 459.39,347.06 466.12,344.53 472.85,341.95 479.58,339.31 486.32,336.61 493.05,333.84 499.78,331.00 506.52,328.10 513.25,325.11 519.98,322.05 526.71,318.91 533.45,315.67 540.18,312.34 546.91,308.91 553.64,305.38 560.38,301.73 567.11,297.97 573.84,294.07 580.58,290.04 587.31,285.86 594.04,281.52 600.77,277.00 607.51,272.30 614.24,267.40 620.97,262.28 627.71,256.91 634.44,251.28 641.17,245.35 647.90,239.09 654.64,232.47 661.37,225.43 668.10,217.93 674.84,209.89 681.57,201.24 688.30,191.87 695.03,181.65 701.77,170.41 708.50,157.92 715.23,143.87 721.96,127.81 728.70,109.08 735.43,86.60 742.16,58.47 748.90,20.88 755.63,-35.99 762.36,-156.63 769.09,-165.63 775.83,-38.99 782.56,19.08 789.29,57.18 796.03,85.60 802.76,108.26 809.49,127.12 816.22,143.27 822.96,157.39 829.69,169.93 836.42,181.22 843.16,191.48 849.89,200.88 856.62,209.56 863.35,217.62 870.09,225.14 876.82,232.19 883.55,238.83" fill="none" stroke="#ff0000" stroke-width="1.85" stroke-dasharray="1.8 3.7" />
<polyline points="210.27,425.50 217.00,424.08 223.74,422.65 230.47,421.20 237.20,419.73 243.94,418.24 250.67,416.74 257.40,415.22 264.13,413.67 270.87,412.11 277.60,410.53 284.33,408.93 291.07,407.30 297.80,405.65 304.53,403.99 311.26,402.29 318.00,400.58 324.73,398.83 331.46,397.07 338.20,395.27 344.93,393.45 351.66,391.60 358.39,389.72 365.13,387.81 371.86,385.87 378.59,383.90 385.32,381.89 392.06,379.85 398.79,377.77 405.52,375.66 412.26,373.51 418.99,371.31 425.72,369.08 432.45,366.80 439.19,364.47 445.92,362.10 452.65,359.68 459.39,357.21 466.12,354.68 472.85,352.10 479.58,349.46 486.32,346.76 493.05,343.99 499.78,341.15 506.52,338.25 513.25,335.26 519.98,332.20 526.71,329.06 533.45,325.82 540.18,322.49 546.91,319.06 553.64,315.53 560.38,311.88 567.11,308.12 573.84,304.22 580.58,300.19 587.31,296.01 594.04,291.67 600.77,287.15 607.51,282.45 614.24,277.55 620.97,272.43 627.71,267.06 634.44,261.43 641.17,255.50 647.90,249.24 654.64,242.62 661.37,235.58 668.10,228.08 674.84,220.04 681.57,211.39 688.30,202.02 695.03,191.80 701.77,180.56 708.50,168.07 715.23,154.02 721.96,137.96 728.70,119.23 735.43,96.75 742.16,68.62 748.90,31.03 755.63,-25.84 762.36,-146.48 769.09,-155.48 775.83,-28.84 782.56,29.23 789.29,67.33 796.03,95.75 802.76,118.41 809.49,137.27 816.22,153.42 822.96,167.54 829.69,180.08 836.42,191.37 843.16,201.63 849.89,211.03 856.62,219.71 863.35,227.77 870.09,235.29 876.82,242.34 883.55,248.98" fill="none" stroke="#ff0000" stroke-width="1.85" stroke-dasharray="1.8 3.7" />
<polyline points="210.27,420.20 217.00,418.78 223.74,417.35 230.47,415.90 237.20,414.43 243.94,412.94 250.67,411.44 257.40,409.92 264.13,408.37 270.87,406.81 277.60,405.23 284.33,403.63 291.07,402.00 297.80,400.35 304.53,398.69 311.26,396.99 318.00,395.28 324.73,393.53 331.46,391.77 338.20,389.97 344.93,388.15 351.66,386.30 358.39,384.42 365.13,382.51 371.86,380.57 378.59,378.60 385.32,376.59 392.06,374.55 398.79,372.47 405.52,370.36 412.26,368.21 418.99,366.01 425.72,363.78 432.45,361.50 439.19,359.17 445.92,356.80 452.65,354.38 459.39,351.91 466.12,349.38 472.85,346.80 479.58,344.16 486.32,341.46 493.05,338.69 499.78,335.85 506.52,332.95 513.25,329.96 519.98,326.90 526.71,323.76 533.45,320.52 540.18,317.19 546.91,313.76 553.64,310.23 560.38,306.58 567.11,302.82 573.84,298.92 580.58,294.89 587.31,290.71 594.04,286.37 600.77,281.85 607.51,277.15 614.24,272.25 620.97,267.13 627.71,261.76 634.44,256.13 641.17,250.20 647.90,243.94 654.64,237.32 661.37,230.28 668.10,222.78 674.84,214.74 681.57,206.09 688.30,196.72 695.03,186.50 701.77,175.26 708.50,162.77 715.23,148.72 721.96,132.66 728.70,113.93 735.43,91.45 742.16,63.32 748.90,25.73 755.63,-31.14 762.36,-151.78 769.09,-160.78 775.83,-34.14 782.56,23.93 789.29,62.03 796.03,90.45 802.76,113.11 809.49,131.97 816.22,148.12 822.96,162.24 829.69,174.78 836.42,186.07 843.16,196.33 849.89,205.73 856.62,214.41 863.35,222.47 870.09,229.99 876.82,237.04 883.55,243.68" fill="none" stroke="#ff0000" stroke-width="1.75"  />
<polyline points="210.27,489.55 217.00,488.57 223.74,487.58 230.47,486.59 237.20,485.59 243.94,484.58 250.67,483.57 257.40,482.54 264.13,481.51 270.87,480.47 277.60,479.42 284.33,478.37 291.07,477.30 297.80,476.23 304.53,475.14 311.26,474.05 318.00,472.95 324.73,471.84 331.46,470.72 338.20,469.59 344.93,468.45 351.66,467.30 358.39,466.14 365.13,464.97 371.86,463.79 378.59,462.59 385.32,461.39 392.06,460.17 398.79,458.94 405.52,457.70 412.26,456.45 418.99,455.19 425.72,453.91 432.45,452.62 439.19,451.31 445.92,449.99 452.65,448.66 459.39,447.31 466.12,445.95 472.85,444.57 479.58,443.18 486.32,441.77 493.05,440.34 499.78,438.90 506.52,437.44 513.25,435.96 519.98,434.47 526.71,432.95 533.45,431.42 540.18,429.86 546.91,428.29 553.64,426.69 560.38,425.08 567.11,423.44 573.84,421.78 580.58,420.09 587.31,418.38 594.04,416.65 600.77,414.89 607.51,413.11 614.24,411.29 620.97,409.45 627.71,407.58 634.44,405.68 641.17,403.75 647.90,401.78 654.64,399.78 661.37,397.75 668.10,395.68 674.84,393.58 681.57,391.43 688.30,389.25 695.03,387.02 701.77,384.75 708.50,382.44 715.23,380.08 721.96,377.67 728.70,375.20 735.43,372.69 742.16,370.12 748.90,367.49 755.63,364.79 762.36,362.04 769.09,359.21 775.83,356.32 782.56,353.35 789.29,350.30 796.03,347.17 802.76,343.95 809.49,340.63 816.22,337.22 822.96,333.70 829.69,330.07 836.42,326.32 843.16,322.44 849.89,318.43 856.62,314.27 863.35,309.95 870.09,305.46 876.82,300.79 883.55,295.91" fill="none" stroke="#ff0000" stroke-width="1.85" stroke-dasharray="1.8 3.7" />
<polyline points="210.27,499.70 217.00,498.72 223.74,497.73 230.47,496.74 237.20,495.74 243.94,494.73 250.67,493.72 257.40,492.69 264.13,491.66 270.87,490.62 277.60,489.57 284.33,488.52 291.07,487.45 297.80,486.38 304.53,485.29 311.26,484.20 318.00,483.10 324.73,481.99 331.46,480.87 338.20,479.74 344.93,478.60 351.66,477.45 358.39,476.29 365.13,475.12 371.86,473.94 378.59,472.74 385.32,471.54 392.06,470.32 398.79,469.09 405.52,467.85 412.26,466.60 418.99,465.34 425.72,464.06 432.45,462.77 439.19,461.46 445.92,460.14 452.65,458.81 459.39,457.46 466.12,456.10 472.85,454.72 479.58,453.33 486.32,451.92 493.05,450.49 499.78,449.05 506.52,447.59 513.25,446.11 519.98,444.62 526.71,443.10 533.45,441.57 540.18,440.01 546.91,438.44 553.64,436.84 560.38,435.23 567.11,433.59 573.84,431.93 580.58,430.24 587.31,428.53 594.04,426.80 600.77,425.04 607.51,423.26 614.24,421.44 620.97,419.60 627.71,417.73 634.44,415.83 641.17,413.90 647.90,411.93 654.64,409.93 661.37,407.90 668.10,405.83 674.84,403.73 681.57,401.58 688.30,399.40 695.03,397.17 701.77,394.90 708.50,392.59 715.23,390.23 721.96,387.82 728.70,385.35 735.43,382.84 742.16,380.27 748.90,377.64 755.63,374.94 762.36,372.19 769.09,369.36 775.83,366.47 782.56,363.50 789.29,360.45 796.03,357.32 802.76,354.10 809.49,350.78 816.22,347.37 822.96,343.85 829.69,340.22 836.42,336.47 843.16,332.59 849.89,328.58 856.62,324.42 863.35,320.10 870.09,315.61 876.82,310.94 883.55,306.06" fill="none" stroke="#ff0000" stroke-width="1.85" stroke-dasharray="1.8 3.7" />
<polyline points="210.27,494.40 217.00,493.42 223.74,492.43 230.47,491.44 237.20,490.44 243.94,489.43 250.67,488.42 257.40,487.39 264.13,486.36 270.87,485.32 277.60,484.27 284.33,483.22 291.07,482.15 297.80,481.08 304.53,479.99 311.26,478.90 318.00,477.80 324.73,476.69 331.46,475.57 338.20,474.44 344.93,473.30 351.66,472.15 358.39,470.99 365.13,469.82 371.86,468.64 378.59,467.44 385.32,466.24 392.06,465.02 398.79,463.79 405.52,462.55 412.26,461.30 418.99,460.04 425.72,458.76 432.45,457.47 439.19,456.16 445.92,454.84 452.65,453.51 459.39,452.16 466.12,450.80 472.85,449.42 479.58,448.03 486.32,446.62 493.05,445.19 499.78,443.75 506.52,442.29 513.25,440.81 519.98,439.32 526.71,437.80 533.45,436.27 540.18,434.71 546.91,433.14 553.64,431.54 560.38,429.93 567.11,428.29 573.84,426.63 580.58,424.94 587.31,423.23 594.04,421.50 600.77,419.74 607.51,417.96 614.24,416.14 620.97,414.30 627.71,412.43 634.44,410.53 641.17,408.60 647.90,406.63 654.64,404.63 661.37,402.60 668.10,400.53 674.84,398.43 681.57,396.28 688.30,394.10 695.03,391.87 701.77,389.60 708.50,387.29 715.23,384.93 721.96,382.52 728.70,380.05 735.43,377.54 742.16,374.97 748.90,372.34 755.63,369.64 762.36,366.89 769.09,364.06 775.83,361.17 782.56,358.20 789.29,355.15 796.03,352.02 802.76,348.80 809.49,345.48 816.22,342.07 822.96,338.55 829.69,334.92 836.42,331.17 843.16,327.29 849.89,323.28 856.62,319.12 863.35,314.80 870.09,310.31 876.82,305.64 883.55,300.76" fill="none" stroke="#ff0000" stroke-width="1.75"  />
</g>
<line x1="426.93" y1="176.6" x2="426.93" y2="198.6" stroke="#000" stroke-width="2.2"/>
<circle cx="426.93" cy="186.5" r="4.3" fill="#000"/>
<line x1="490.42" y1="203.8" x2="490.42" y2="320.5" stroke="#000" stroke-width="2.2"/>
<circle cx="490.42" cy="236.3" r="4.3" fill="#000"/>
<line x1="622.8" y1="143.5" x2="622.8" y2="630.4" stroke="#000" stroke-width="2.1"/>
<circle cx="622.79" cy="216.0" r="4.3" fill="#000"/>
<line x1="626.1" y1="94.2" x2="626.1" y2="123.9" stroke="#000" stroke-width="2.2"/>
<rect x="623.2" y="104.3" width="6" height="6.2" fill="#000"/>
<circle cx="232.96" cy="277.7" r="4.1" fill="none" stroke="#000" stroke-width="2.8"/>
<circle cx="259.69" cy="324.4" r="4.1" fill="none" stroke="#000" stroke-width="2.8"/>
<circle cx="282.38" cy="287.4" r="4.1" fill="none" stroke="#000" stroke-width="2.8"/>
<circle cx="426.93" cy="280.1" r="4.1" fill="none" stroke="#000" stroke-width="2.8"/>
<circle cx="490.42" cy="250.8" r="4.1" fill="none" stroke="#000" stroke-width="2.8"/>
<circle cx="622.79" cy="161.1" r="4.1" fill="none" stroke="#000" stroke-width="2.8"/>
<circle cx="859.92" cy="420.4" r="4.1" fill="none" stroke="#000" stroke-width="2.8"/>
<rect x="109.5" y="34.5" width="808.0" height="595.9" stroke="#000" stroke-width="0.6" fill="none"/>
<g stroke="#000" stroke-width="0.55" fill="none">
<line x1="109.28" y1="630.4" x2="109.28" y2="618.8"/>
<line x1="109.28" y1="34.5" x2="109.28" y2="46.1"/>
<line x1="142.94" y1="630.4" x2="142.94" y2="624.6"/>
<line x1="142.94" y1="34.5" x2="142.94" y2="40.3"/>
<line x1="176.61" y1="630.4" x2="176.61" y2="624.6"/>
<line x1="176.61" y1="34.5" x2="176.61" y2="40.3"/>
<line x1="210.27" y1="630.4" x2="210.27" y2="624.6"/>
<line x1="210.27" y1="34.5" x2="210.27" y2="40.3"/>
<line x1="243.94" y1="630.4" x2="243.94" y2="618.8"/>
<line x1="243.94" y1="34.5" x2="243.94" y2="46.1"/>
<line x1="277.60" y1="630.4" x2="277.60" y2="624.6"/>
<line x1="277.60" y1="34.5" x2="277.60" y2="40.3"/>
<line x1="311.26" y1="630.4" x2="311.26" y2="624.6"/>
<line x1="311.26" y1="34.5" x2="311.26" y2="40.3"/>
<line x1="344.93" y1="630.4" x2="344.93" y2="624.6"/>
<line x1="344.93" y1="34.5" x2="344.93" y2="40.3"/>
<line x1="378.59" y1="630.4" x2="378.59" y2="618.8"/>
<line x1="378.59" y1="34.5" x2="378.59" y2="46.1"/>
<line x1="412.26" y1="630.4" x2="412.26" y2="624.6"/>
<line x1="412.26" y1="34.5" x2="412.26" y2="40.3"/>
<line x1="445.92" y1="630.4" x2="445.92" y2="624.6"/>
<line x1="445.92" y1="34.5" x2="445.92" y2="40.3"/>
<line x1="479.58" y1="630.4" x2="479.58" y2="624.6"/>
<line x1="479.58" y1="34.5" x2="479.58" y2="40.3"/>
<line x1="513.25" y1="630.4" x2="513.25" y2="618.8"/>
<line x1="513.25" y1="34.5" x2="513.25" y2="46.1"/>
<line x1="546.91" y1="630.4" x2="546.91" y2="624.6"/>
<line x1="546.91" y1="34.5" x2="546.91" y2="40.3"/>
<line x1="580.58" y1="630.4" x2="580.58" y2="624.6"/>
<line x1="580.58" y1="34.5" x2="580.58" y2="40.3"/>
<line x1="614.24" y1="630.4" x2="614.24" y2="624.6"/>
<line x1="614.24" y1="34.5" x2="614.24" y2="40.3"/>
<line x1="647.90" y1="630.4" x2="647.90" y2="618.8"/>
<line x1="647.90" y1="34.5" x2="647.90" y2="46.1"/>
<line x1="681.57" y1="630.4" x2="681.57" y2="624.6"/>
<line x1="681.57" y1="34.5" x2="681.57" y2="40.3"/>
<line x1="715.23" y1="630.4" x2="715.23" y2="624.6"/>
<line x1="715.23" y1="34.5" x2="715.23" y2="40.3"/>
<line x1="748.90" y1="630.4" x2="748.90" y2="624.6"/>
<line x1="748.90" y1="34.5" x2="748.90" y2="40.3"/>
<line x1="782.56" y1="630.4" x2="782.56" y2="618.8"/>
<line x1="782.56" y1="34.5" x2="782.56" y2="46.1"/>
<line x1="816.22" y1="630.4" x2="816.22" y2="624.6"/>
<line x1="816.22" y1="34.5" x2="816.22" y2="40.3"/>
<line x1="849.89" y1="630.4" x2="849.89" y2="624.6"/>
<line x1="849.89" y1="34.5" x2="849.89" y2="40.3"/>
<line x1="883.55" y1="630.4" x2="883.55" y2="624.6"/>
<line x1="883.55" y1="34.5" x2="883.55" y2="40.3"/>
<line x1="917.22" y1="630.4" x2="917.22" y2="618.8"/>
<line x1="917.22" y1="34.5" x2="917.22" y2="46.1"/>
<line x1="109.5" y1="630.40" x2="125.5" y2="630.40"/>
<line x1="917.5" y1="630.40" x2="901.5" y2="630.40"/>
<line x1="109.5" y1="591.44" x2="117.3" y2="591.44"/>
<line x1="917.5" y1="591.44" x2="909.7" y2="591.44"/>
<line x1="109.5" y1="568.64" x2="117.3" y2="568.64"/>
<line x1="917.5" y1="568.64" x2="909.7" y2="568.64"/>
<line x1="109.5" y1="552.46" x2="117.3" y2="552.46"/>
<line x1="917.5" y1="552.46" x2="909.7" y2="552.46"/>
<line x1="109.5" y1="539.91" x2="117.3" y2="539.91"/>
<line x1="917.5" y1="539.91" x2="909.7" y2="539.91"/>
<line x1="109.5" y1="529.66" x2="117.3" y2="529.66"/>
<line x1="917.5" y1="529.66" x2="909.7" y2="529.66"/>
<line x1="109.5" y1="520.99" x2="117.3" y2="520.99"/>
<line x1="917.5" y1="520.99" x2="909.7" y2="520.99"/>
<line x1="109.5" y1="513.48" x2="117.3" y2="513.48"/>
<line x1="917.5" y1="513.48" x2="909.7" y2="513.48"/>
<line x1="109.5" y1="506.86" x2="117.3" y2="506.86"/>
<line x1="917.5" y1="506.86" x2="909.7" y2="506.86"/>
<line x1="109.5" y1="500.93" x2="125.5" y2="500.93"/>
<line x1="917.5" y1="500.93" x2="901.5" y2="500.93"/>
<line x1="109.5" y1="461.95" x2="117.3" y2="461.95"/>
<line x1="917.5" y1="461.95" x2="909.7" y2="461.95"/>
<line x1="109.5" y1="439.15" x2="117.3" y2="439.15"/>
<line x1="917.5" y1="439.15" x2="909.7" y2="439.15"/>
<line x1="109.5" y1="422.97" x2="117.3" y2="422.97"/>
<line x1="917.5" y1="422.97" x2="909.7" y2="422.97"/>
<line x1="109.5" y1="410.42" x2="117.3" y2="410.42"/>
<line x1="917.5" y1="410.42" x2="909.7" y2="410.42"/>
<line x1="109.5" y1="400.17" x2="117.3" y2="400.17"/>
<line x1="917.5" y1="400.17" x2="909.7" y2="400.17"/>
<line x1="109.5" y1="391.50" x2="117.3" y2="391.50"/>
<line x1="917.5" y1="391.50" x2="909.7" y2="391.50"/>
<line x1="109.5" y1="383.99" x2="117.3" y2="383.99"/>
<line x1="917.5" y1="383.99" x2="909.7" y2="383.99"/>
<line x1="109.5" y1="377.37" x2="117.3" y2="377.37"/>
<line x1="917.5" y1="377.37" x2="909.7" y2="377.37"/>
<line x1="109.5" y1="371.44" x2="125.5" y2="371.44"/>
<line x1="917.5" y1="371.44" x2="901.5" y2="371.44"/>
<line x1="109.5" y1="332.46" x2="117.3" y2="332.46"/>
<line x1="917.5" y1="332.46" x2="909.7" y2="332.46"/>
<line x1="109.5" y1="309.66" x2="117.3" y2="309.66"/>
<line x1="917.5" y1="309.66" x2="909.7" y2="309.66"/>
<line x1="109.5" y1="293.48" x2="117.3" y2="293.48"/>
<line x1="917.5" y1="293.48" x2="909.7" y2="293.48"/>
<line x1="109.5" y1="280.93" x2="117.3" y2="280.93"/>
<line x1="917.5" y1="280.93" x2="909.7" y2="280.93"/>
<line x1="109.5" y1="270.68" x2="117.3" y2="270.68"/>
<line x1="917.5" y1="270.68" x2="909.7" y2="270.68"/>
<line x1="109.5" y1="262.01" x2="117.3" y2="262.01"/>
<line x1="917.5" y1="262.01" x2="909.7" y2="262.01"/>
<line x1="109.5" y1="254.50" x2="117.3" y2="254.50"/>
<line x1="917.5" y1="254.50" x2="909.7" y2="254.50"/>
<line x1="109.5" y1="247.88" x2="117.3" y2="247.88"/>
<line x1="917.5" y1="247.88" x2="909.7" y2="247.88"/>
<line x1="109.5" y1="241.95" x2="125.5" y2="241.95"/>
<line x1="917.5" y1="241.95" x2="901.5" y2="241.95"/>
<line x1="109.5" y1="202.97" x2="117.3" y2="202.97"/>
<line x1="917.5" y1="202.97" x2="909.7" y2="202.97"/>
<line x1="109.5" y1="180.17" x2="117.3" y2="180.17"/>
<line x1="917.5" y1="180.17" x2="909.7" y2="180.17"/>
<line x1="109.5" y1="163.99" x2="117.3" y2="163.99"/>
<line x1="917.5" y1="163.99" x2="909.7" y2="163.99"/>
<line x1="109.5" y1="151.44" x2="117.3" y2="151.44"/>
<line x1="917.5" y1="151.44" x2="909.7" y2="151.44"/>
<line x1="109.5" y1="141.19" x2="117.3" y2="141.19"/>
<line x1="917.5" y1="141.19" x2="909.7" y2="141.19"/>
<line x1="109.5" y1="132.52" x2="117.3" y2="132.52"/>
<line x1="917.5" y1="132.52" x2="909.7" y2="132.52"/>
<line x1="109.5" y1="125.01" x2="117.3" y2="125.01"/>
<line x1="917.5" y1="125.01" x2="909.7" y2="125.01"/>
<line x1="109.5" y1="118.39" x2="117.3" y2="118.39"/>
<line x1="917.5" y1="118.39" x2="909.7" y2="118.39"/>
<line x1="109.5" y1="112.46" x2="125.5" y2="112.46"/>
<line x1="917.5" y1="112.46" x2="901.5" y2="112.46"/>
<line x1="109.5" y1="73.48" x2="117.3" y2="73.48"/>
<line x1="917.5" y1="73.48" x2="909.7" y2="73.48"/>
<line x1="109.5" y1="50.68" x2="117.3" y2="50.68"/>
<line x1="917.5" y1="50.68" x2="909.7" y2="50.68"/>
<line x1="109.5" y1="34.50" x2="117.3" y2="34.50"/>
<line x1="917.5" y1="34.50" x2="909.7" y2="34.50"/>
</g>
<g style="filter:grayscale(0)">
<text x="513.2" y="24.3" font-size="26" text-anchor="middle" fill="#000">Satellite-induced precession</text>
<text x="513.5" y="678" font-size="21" text-anchor="middle" fill="#000">Radius (1000 km)</text>
<text transform="translate(53.4,334) rotate(-90)" font-size="20.8" text-anchor="middle" fill="#000">Precession rate (deg/day)</text>
<text x="109.18" y="656.4" font-size="21" text-anchor="middle" fill="#000">40</text>
<text x="243.84" y="656.4" font-size="21" text-anchor="middle" fill="#000">42</text>
<text x="378.49" y="656.4" font-size="21" text-anchor="middle" fill="#000">44</text>
<text x="513.15" y="656.4" font-size="21" text-anchor="middle" fill="#000">46</text>
<text x="647.80" y="656.4" font-size="21" text-anchor="middle" fill="#000">48</text>
<text x="782.46" y="656.4" font-size="21" text-anchor="middle" fill="#000">50</text>
<text x="917.12" y="656.4" font-size="21" text-anchor="middle" fill="#000">52</text>
<text x="92.2" y="630.50" font-size="21" text-anchor="end" fill="#000">10</text>
<text x="92.6" y="621.20" font-size="12.6" text-anchor="start" fill="#000">-7</text>
<text x="92.2" y="508.33" font-size="21" text-anchor="end" fill="#000">10</text>
<text x="92.6" y="499.03" font-size="12.6" text-anchor="start" fill="#000">-6</text>
<text x="92.2" y="378.84" font-size="21" text-anchor="end" fill="#000">10</text>
<text x="92.6" y="369.54" font-size="12.6" text-anchor="start" fill="#000">-5</text>
<text x="92.2" y="249.35" font-size="21" text-anchor="end" fill="#000">10</text>
<text x="92.6" y="240.05" font-size="12.6" text-anchor="start" fill="#000">-4</text>
<text x="92.2" y="119.86" font-size="21" text-anchor="end" fill="#000">10</text>
<text x="92.6" y="110.56" font-size="12.6" text-anchor="start" fill="#000">-3</text>
<text x="206.7" y="173.8" font-size="13.33" text-anchor="end" fill="#000">total</text>
<text x="206.7" y="212.3" font-size="13.33" text-anchor="end" fill="#000">Ariel</text>
<text x="206.7" y="268.7" font-size="13.33" text-anchor="end" fill="#000">Umbriel</text>
<text x="206.7" y="292.9" font-size="13.33" text-anchor="end" fill="#000">Titania</text>
<text x="206.7" y="308.3" font-size="13.33" text-anchor="end" fill="#000">Miranda</text>
<text x="206.7" y="353.5" font-size="13.33" text-anchor="end" fill="#000">Oberon</text>
<text x="206.7" y="376.9" font-size="13.33" text-anchor="end" fill="#000">Portia</text>
<text x="206.7" y="417.9" font-size="13.33" text-anchor="end" fill="#000">Puck</text>
<text x="206.7" y="430.3" font-size="13.33" text-anchor="end" fill="#000">Juliet</text>
<text x="206.1" y="443.2" font-size="13.33" text-anchor="end" fill="#0000ff">σ(AUTOMP)</text>
<text x="206.7" y="458.6" font-size="13.33" text-anchor="end" fill="#000">Cressida</text>
<text x="206.7" y="485.2" font-size="13.33" text-anchor="end" fill="#000">Desdemona</text>
<text x="206.7" y="500.4" font-size="13.33" text-anchor="end" fill="#000">Belinda</text>
<text x="206.7" y="512.6" font-size="13.33" text-anchor="end" fill="#000">Rosalind</text>
<text x="206.7" y="526.5" font-size="13.33" text-anchor="end" fill="#000">Bianca</text>
<text x="202.8" y="54.2" font-size="13.33" text-anchor="end" fill="#228b22">J2/1000</text>
<text x="202.8" y="185.9" font-size="13.33" text-anchor="end" fill="#228b22">J4/100</text>
<text x="202.8" y="198.7" font-size="13.33" text-anchor="end" fill="#228b22">J6=0.5e-6</text>
<text x="206.0" y="562.8" font-size="13.33" text-anchor="end" fill="#a0522d">ε ring</text>
<text x="311.5" y="186.5" font-size="13.33" fill="#0000ff">total (AUTOMP)</text>
<text x="633.5" y="107.9" font-size="13.33" fill="#000">no m=3</text>
<text x="630.3" y="219.9" font-size="13.33" fill="#000">w/ m=3</text>
<text transform="translate(506.2,323.8) rotate(-23.5)" font-size="13.33" fill="#ff0000">Cordelia</text>
<text transform="translate(693.5,374.5) rotate(-13)" font-size="13.33" fill="#ff0000">Ophelia</text>
<text x="226.9" y="592" font-size="21" text-anchor="end" fill="#000">6</text>
<text x="253.5" y="592" font-size="21" text-anchor="end" fill="#000">5</text>
<text x="276.2" y="592" font-size="21" text-anchor="end" fill="#000">4</text>
<text transform="translate(422.6,591.6) scale(1.17,1)" font-size="22.5" text-anchor="end" fill="#000" style="font-family:'Liberation Serif',serif">α</text>
<text transform="translate(484.2,591.6) scale(1,1)" font-size="22.5" text-anchor="end" fill="#000" style="font-family:'Liberation Serif',serif">β</text>
<text transform="translate(586.2,591.6) scale(1,1)" font-size="22.5" text-anchor="end" fill="#000" style="font-family:'Liberation Serif',serif">η</text>
<text transform="translate(618.5,591.6) scale(1,1)" font-size="22.5" text-anchor="end" fill="#000" style="font-family:'Liberation Serif',serif">γ</text>
<text transform="translate(662.3,591.6) scale(1,1)" font-size="22.5" text-anchor="end" fill="#000" style="font-family:'Liberation Serif',serif">δ</text>
<text transform="translate(779.2,591.6) scale(1,1)" font-size="22.5" text-anchor="end" fill="#000" style="font-family:'Liberation Serif',serif">λ</text>
<text transform="translate(855,591.6) scale(1,1)" font-size="22.5" text-anchor="end" fill="#000" style="font-family:'Liberation Serif',serif">ε</text>
</g>
</svg></body></html>
